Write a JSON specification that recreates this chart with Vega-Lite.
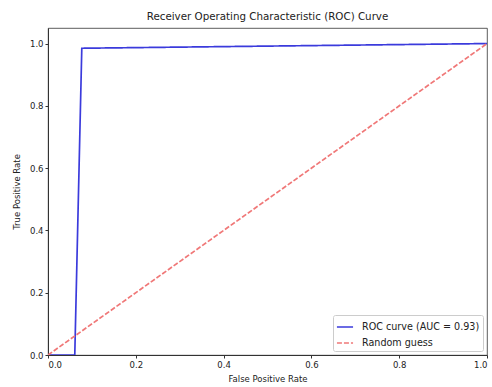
{
  "$schema": "https://vega.github.io/schema/vega-lite/v6.json",
  "autosize": {"type": "none"},
  "width": 439,
  "height": 327,
  "padding": {"left": 48, "top": 28, "right": 5, "bottom": 32},
  "background": "white",
  "title": {"text": "Receiver Operating Characteristic (ROC) Curve", "font": "DejaVu Sans", "fontSize": 10.3, "fontWeight": "normal", "color": "#222", "offset": 6},
  "data": {"values": [
    {"series": "ROC curve (AUC = 0.93)", "fpr": 0.0, "tpr": 0.0, "o": 0},
    {"series": "ROC curve (AUC = 0.93)", "fpr": 0.061, "tpr": 0.0, "o": 1},
    {"series": "ROC curve (AUC = 0.93)", "fpr": 0.077, "tpr": 0.985, "o": 2},
    {"series": "ROC curve (AUC = 0.93)", "fpr": 1.0, "tpr": 1.0, "o": 3},
    {"series": "Random guess", "fpr": 0.0, "tpr": 0.0, "o": 0},
    {"series": "Random guess", "fpr": 1.0, "tpr": 1.0, "o": 1}
  ]},
  "mark": {"type": "line", "strokeWidth": 1.7, "clip": true},
  "encoding": {
    "x": {"field": "fpr", "type": "quantitative", "scale": {"domain": [0, 1], "nice": false, "zero": false},
      "axis": {"title": "False Positive Rate", "values": [0, 0.2, 0.4, 0.6, 0.8, 1.0], "format": ".1f", "grid": false, "titlePadding": 6}},
    "y": {"field": "tpr", "type": "quantitative", "scale": {"domain": [0, 1.05], "nice": false, "zero": false},
      "axis": {"title": "True Positive Rate", "values": [0, 0.2, 0.4, 0.6, 0.8, 1.0], "format": ".1f", "grid": false, "titlePadding": 8}},
    "order": {"field": "o"},
    "color": {"field": "series", "type": "nominal",
      "scale": {"domain": ["ROC curve (AUC = 0.93)", "Random guess"], "range": ["#3b3bdc", "#f07878"]},
      "legend": {"title": null, "orient": "bottom-right", "offset": 4, "symbolType": "stroke", "symbolSize": 260, "symbolStrokeWidth": 1.5,
        "labelFont": "DejaVu Sans", "labelFontSize": 9.6, "labelColor": "#222", "labelOffset": 8, "strokeColor": "#cccccc", "fillColor": "white", "padding": 3, "rowPadding": 2, "cornerRadius": 2}},
    "strokeDash": {"field": "series", "type": "nominal",
      "scale": {"domain": ["ROC curve (AUC = 0.93)", "Random guess"], "range": [[1, 0], [5, 2]]},
      "legend": {"title": null}}
  },
  "config": {
    "view": {"stroke": "#333", "strokeWidth": 0.8},
    "axis": {"labelFont": "DejaVu Sans", "labelFontSize": 8.5, "labelColor": "#222", "titleFont": "DejaVu Sans", "titleFontSize": 8.5, "titleFontWeight": "normal", "titleColor": "#222",
      "domainColor": "#333", "tickColor": "#333", "tickSize": 3, "labelPadding": 2, "titlePadding": 4}
  }
}
